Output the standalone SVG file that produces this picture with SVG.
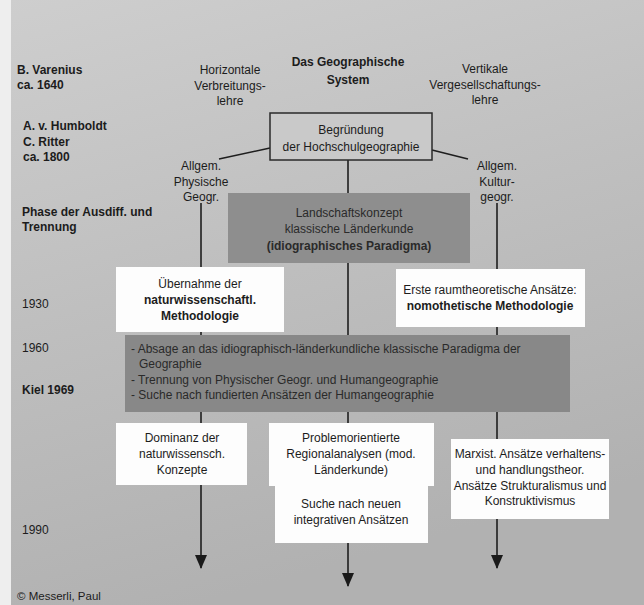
<svg xmlns="http://www.w3.org/2000/svg" width="644" height="605" viewBox="0 0 644 605">
<defs>
<linearGradient id="bg" x1="0" y1="0" x2="0.3" y2="1">
<stop offset="0" stop-color="#cecece"/>
<stop offset="0.5" stop-color="#bfbfbf"/>
<stop offset="1" stop-color="#b1b1b1"/>
</linearGradient>
<marker id="arr" viewBox="0 0 14 12" refX="13" refY="6" markerWidth="14" markerHeight="12" markerUnits="userSpaceOnUse" orient="auto">
<path d="M0,0 L14,6 L0,12 Z" fill="#1a1a1a"/>
</marker>
</defs>
<style>
text{font-family:"Liberation Sans",Arial,sans-serif;font-size:12px;fill:#1c1c1c}
.b{font-weight:bold}
.c{text-anchor:middle}
.w{fill:#fdfdfd}
.dk{fill:#8e8e8e}
.dk2{fill:#888888}
.ln{stroke:#1e1e1e;stroke-width:1.6;fill:none}
.t2{fill:#2a2a2a}
</style>
<rect x="0" y="0" width="644" height="605" fill="url(#bg)"/>
<rect x="0" y="0" width="11" height="605" fill="#eeeeee"/>

<g id="connectors">
<line class="ln" x1="201" y1="203" x2="201" y2="568" marker-end="url(#arr)"/>
<line class="ln" x1="348" y1="160" x2="348" y2="586" marker-end="url(#arr)"/>
<line class="ln" x1="497" y1="203" x2="497" y2="568" marker-end="url(#arr)"/>
<line class="ln" x1="270" y1="148" x2="219" y2="159"/>
<line class="ln" x1="432" y1="150" x2="468" y2="159"/>
</g>

<g id="timeline">
<text class="b" x="17" y="74">B. Varenius</text>
<text class="b" x="17" y="89">ca. 1640</text>
<text class="b" x="23" y="130">A. v. Humboldt</text>
<text class="b" x="23" y="146">C. Ritter</text>
<text class="b" x="23" y="161">ca. 1800</text>
<text class="b" x="22" y="216">Phase der Ausdiff. und</text>
<text class="b" x="22" y="231">Trennung</text>
<text x="22" y="308">1930</text>
<text x="22" y="352">1960</text>
<text class="b" x="22" y="394">Kiel 1969</text>
<text x="22" y="534">1990</text>
<text x="17" y="600" style="font-size:11.5px">© Messerli, Paul</text>
</g>

<g id="title">
<text class="b c" x="348" y="66">Das Geographische</text>
<text class="b c" x="348" y="84">System</text>
</g>
<g id="horizontal">
<text class="c" x="230" y="74">Horizontale</text>
<text class="c" x="230" y="90">Verbreitungs-</text>
<text class="c" x="230" y="105">lehre</text>
</g>
<g id="vertical">
<text class="c" x="485" y="73">Vertikale</text>
<text class="c" x="485" y="89">Vergesellschaftungs-</text>
<text class="c" x="485" y="104">lehre</text>
</g>

<g id="begruendung">
<rect x="270" y="113" width="162" height="47" fill="#c9c9c9" stroke="#2a2a2a" stroke-width="1.5"/>
<text class="c" x="351" y="134">Begründung</text>
<text class="c" x="351" y="151">der Hochschulgeographie</text>
</g>

<g id="physische">
<text class="c" x="201" y="170">Allgem.</text>
<text class="c" x="201" y="186">Physische</text>
<text class="c" x="201" y="201">Geogr.</text>
</g>
<g id="kultur">
<text class="c" x="497" y="170">Allgem.</text>
<text class="c" x="497" y="186">Kultur-</text>
<text class="c" x="497" y="201">geogr.</text>
</g>

<g id="landschaft">
<rect class="dk" x="228" y="193" width="242" height="70"/>
<text class="c t2" x="349" y="217">Landschaftskonzept</text>
<text class="c t2" x="349" y="233">klassische Länderkunde</text>
<text class="c b t2" x="349" y="250">(idiographisches Paradigma)</text>
</g>

<g id="uebernahme">
<rect class="w" x="116" y="267" width="168" height="65"/>
<text class="c" x="200" y="288">Übernahme der</text>
<text class="c b" x="200" y="304">naturwissenschaftl.</text>
<text class="c b" x="200" y="320">Methodologie</text>
</g>

<g id="raumtheorie">
<rect class="w" x="396" y="269" width="189" height="58"/>
<text class="c" x="490" y="294">Erste raumtheoretische Ansätze:</text>
<text class="c b" x="490" y="310">nomothetische Methodologie</text>
</g>

<g id="absage">
<rect class="dk2" x="125" y="335" width="445" height="77"/>
<text class="t2" x="131" y="353">- Absage an das idiographisch-länderkundliche klassische Paradigma der</text>
<text class="t2" x="139" y="368">Geographie</text>
<text class="t2" x="131" y="384">- Trennung von Physischer Geogr. und Humangeographie</text>
<text class="t2" x="131" y="399">- Suche nach fundierten Ansätzen der Humangeographie</text>
</g>

<g id="dominanz">
<rect class="w" x="116" y="423" width="131" height="62"/>
<text class="c" x="182" y="442">Dominanz der</text>
<text class="c" x="182" y="458">naturwissensch.</text>
<text class="c" x="182" y="474">Konzepte</text>
</g>

<g id="problem">
<rect class="w" x="269" y="423" width="165" height="63"/>
<text class="c" x="351" y="442">Problemorientierte</text>
<text class="c" x="351" y="458">Regionalanalysen (mod.</text>
<text class="c" x="351" y="474">Länderkunde)</text>
</g>

<g id="suche">
<rect class="w" x="275" y="486" width="153" height="57"/>
<text class="c" x="351" y="508">Suche nach neuen</text>
<text class="c" x="351" y="524">integrativen Ansätzen</text>
</g>

<g id="marxist">
<rect class="w" x="451" y="439" width="158" height="80"/>
<text class="c" x="530" y="458">Marxist. Ansätze verhaltens-</text>
<text class="c" x="530" y="474">und handlungstheor.</text>
<text class="c" x="530" y="490">Ansätze Strukturalismus und</text>
<text class="c" x="530" y="505">Konstruktivismus</text>
</g>
</svg>
